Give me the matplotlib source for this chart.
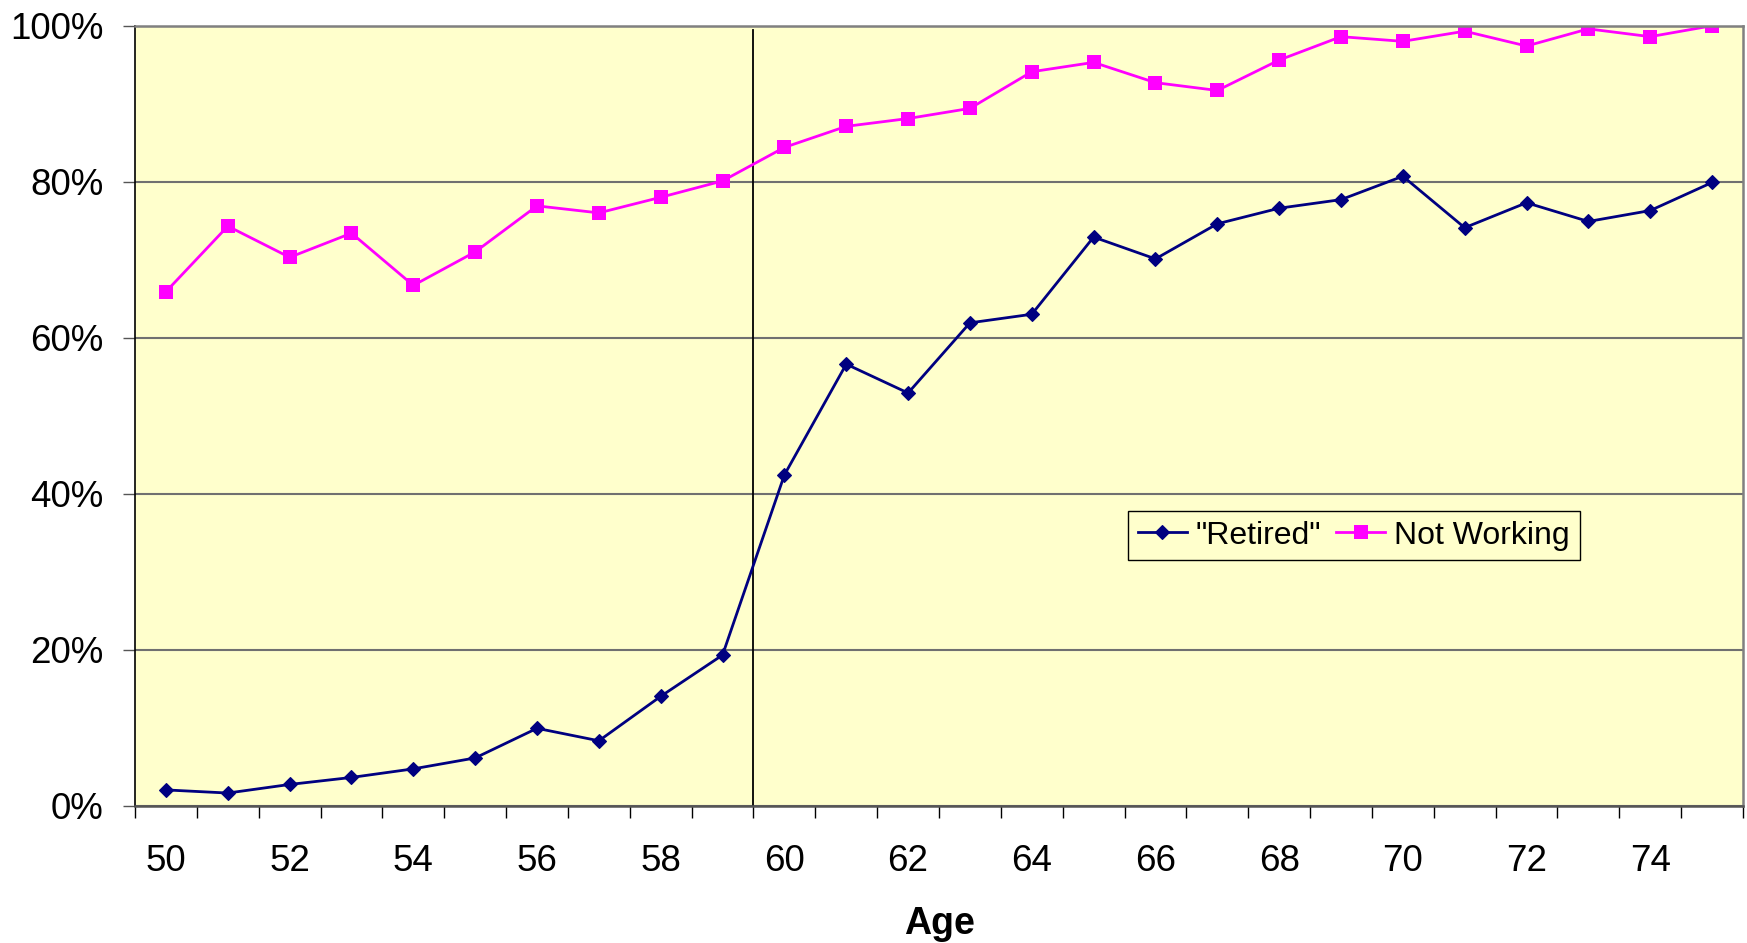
import numpy as np
import matplotlib
matplotlib.use("Agg")
import matplotlib.pyplot as plt
from matplotlib.ticker import PercentFormatter

plt.rcParams["font.family"] = ["Liberation Sans", "DejaVu Sans"]

# ages on the x axis
ages = list(range(50, 76))

# share of people who call themselves retired, in percent
retired = [2.0, 1.6, 2.7, 3.6, 4.7, 6.1, 9.9, 8.3, 14.0, 19.3,
           42.4, 56.6, 52.9, 61.9, 63.0, 72.9, 70.1, 74.6, 76.6, 77.7,
           80.7, 74.1, 77.3, 74.9, 76.3, 79.9]

# share of people not working, in percent
not_working = [65.9, 74.3, 70.3, 73.4, 66.7, 71.0, 76.9, 76.0, 78.0, 80.1,
               84.4, 87.1, 88.1, 89.4, 94.1, 95.3, 92.7, 91.7, 95.6, 98.6,
               98.0, 99.3, 97.4, 99.6, 98.6, 100.0]

series_labels = ['"Retired"', "Not Working"]
age_labels = [str(a) for a in ages if a % 2 == 0]
y_ticks = [0, 20, 40, 60, 80, 100]
cutoff_age = 59.5

# figure of 1747x943 pixels
fig = plt.figure(figsize=(17.47, 9.43), dpi=100)
ax = fig.add_axes([0.0773, 0.1458, 0.9204, 0.8269])
ax.set_facecolor("#FFFFCC")

# the two series
ax.plot(ages, retired, color="#000080", lw=2, marker="D",
        markersize=7.5, markeredgewidth=0.8, label=series_labels[0])
ax.plot(ages, not_working, color="#FF00FF", lw=2, marker="s",
        markersize=10.5, markeredgewidth=0, label=series_labels[1])

# vertical line separating the under-60 ages
ax.axvline(cutoff_age, ymin=0, ymax=0.995, color="black", lw=1.3, zorder=1)

# axes limits and grid
ax.set_xlim(ages[0] - 0.5, ages[-1] + 0.5)
ax.set_ylim(0, 100)
ax.set_yticks(y_ticks)
ax.yaxis.set_major_formatter(PercentFormatter(decimals=0))
ax.yaxis.grid(True, color="#707070", lw=1.5)
ax.set_axisbelow(True)

# x labels on even ages, tick marks between the categories
ax.set_xticks([a for a in ages if a % 2 == 0])
ax.set_xticklabels(age_labels)
ax.set_xticks(np.arange(ages[0] - 0.5, ages[-1] + 1), minor=True)
ax.tick_params(axis="x", which="major", length=0, pad=28, labelsize=26.5)
ax.tick_params(axis="x", which="minor", length=8.5, width=1, color="black")
ax.tick_params(axis="y", length=8.5, width=1, color="#555555",
               pad=14, labelsize=26.5)

ax.set_xlabel("Age", fontsize=27, fontweight="bold", labelpad=19)

# border of the plot area
ax.spines["left"].set_color("black")
ax.spines["left"].set_linewidth(1.2)
ax.spines["bottom"].set_color("#555555")
ax.spines["bottom"].set_linewidth(1.8)
for side in ["top", "right"]:
    ax.spines[side].set_color("#808080")
    ax.spines[side].set_linewidth(1.8)

# legend with both series side by side
leg = ax.legend(loc="lower left", bbox_to_anchor=(0.6175, 0.3147),
                ncol=2, fontsize=23, frameon=True, fancybox=False,
                borderaxespad=0, borderpad=0.3, handlelength=1.55,
                handletextpad=0.28, columnspacing=0.45)
leg.get_frame().set_facecolor("#FFFFCC")
leg.get_frame().set_edgecolor("black")
leg.get_frame().set_linewidth(1.0)
leg.get_frame().set_alpha(1)

fig.savefig("out.png", dpi=100)
